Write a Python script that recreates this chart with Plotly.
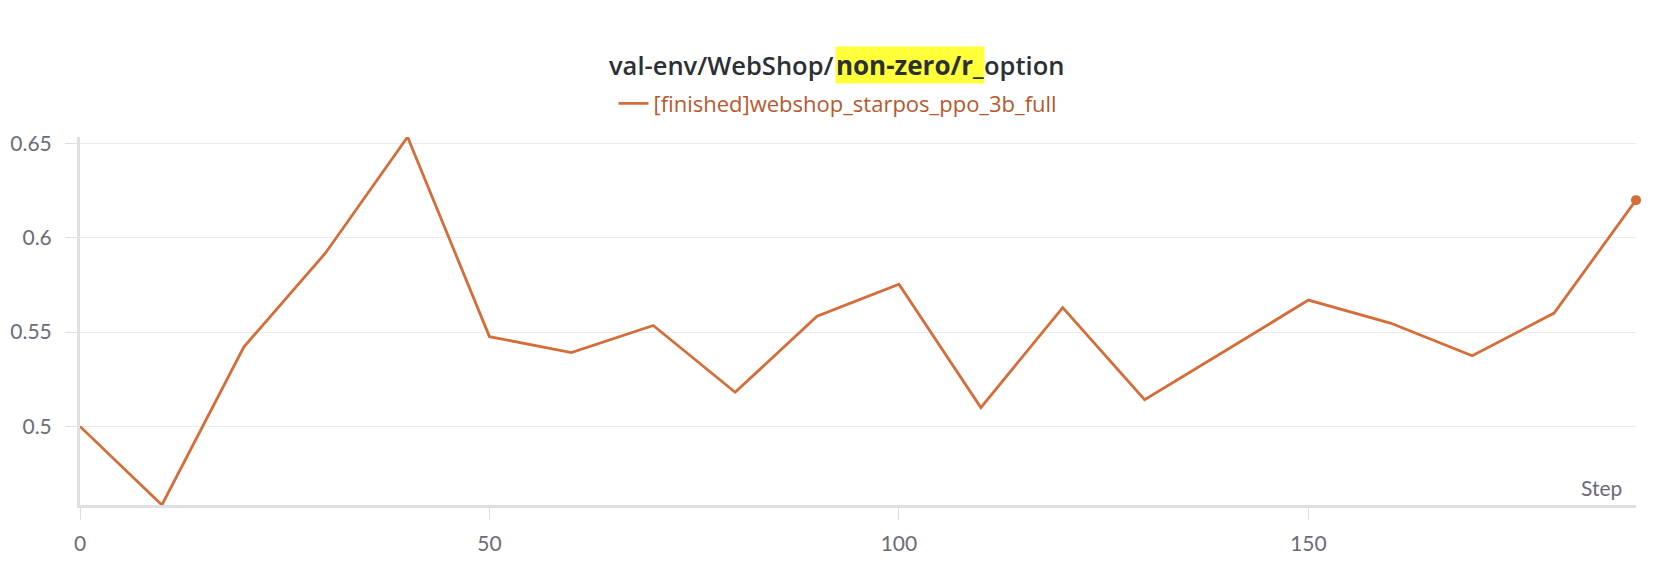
import plotly.graph_objects as go

# ---- data ----
steps = [0, 10, 20, 30, 40, 50, 60, 70, 80, 90, 100, 110, 120, 130, 140, 150, 160, 170, 180, 190]
values = [0.5000, 0.4583, 0.5421, 0.5921, 0.6535, 0.5476, 0.5391, 0.5535, 0.5181, 0.5584,
          0.5754, 0.5100, 0.5630, 0.5142, 0.5405, 0.5670, 0.5548, 0.5375, 0.5601, 0.6200]
run_name = "[finished]webshop_starpos_ppo_3b_full"
title_parts = ["val-env/WebShop/", "non-zero/r_", "option"]
y_tickvals = [0.5, 0.55, 0.6, 0.65]
y_ticktext = ["0.5", "0.55", "0.6", "0.65"]
x_tickvals = [0, 50, 100, 150]
x_ticktext = ["0", "50", "100", "150"]
x_label = "Step"

# ---- styling ----
W, H = 1668, 566
ML, MR, MT, MB = 80, 32, 137, 61
PW, PH = W - ML - MR, H - MT - MB
FONT = "Lato, 'Noto Sans', sans-serif"
TFONT = "'Open Sans', 'Noto Sans', sans-serif"
LINE_COLOR = "#d46d38"
LEGEND_COLOR = "#b9582c"
AXIS_COLOR = "#dedee4"
GRID_COLOR = "#ebebeb"
TICK_COLOR = "#6b6c76"
TITLE_COLOR = "#2d2f36"
HILITE = "#ffff3a"


def px(xp):
    return (xp - ML) / PW


def py(yp):
    return (H - MB - yp) / PH


x_range = [steps[0], steps[-1]]
y_range = [min(values), max(values)]

fig = go.Figure()
fig.add_trace(go.Scatter(
    x=steps, y=values, mode="lines", name=run_name,
    line=dict(color=LINE_COLOR, width=2.8), showlegend=True,
))
fig.add_trace(go.Scatter(
    x=[steps[-1]], y=[values[-1]], mode="markers", showlegend=False,
    marker=dict(color=LINE_COLOR, size=10), cliponaxis=False,
))

axis_common = dict(showline=True, linecolor=AXIS_COLOR, linewidth=3, zeroline=False,
                   automargin=False,
                   ticks="outside", ticklen=12, tickwidth=1, tickcolor=AXIS_COLOR,
                   tickfont=dict(family=FONT, size=21, color=TICK_COLOR))

fig.update_layout(
    width=W, height=H,
    margin=dict(l=ML, r=MR, t=MT, b=MB, pad=0, autoexpand=False),
    paper_bgcolor="white", plot_bgcolor="white",
    font=dict(family=FONT),
    xaxis=dict(range=x_range, tickvals=x_tickvals, ticktext=x_ticktext, showgrid=False,
               ticklabelstandoff=6, **axis_common),
    yaxis=dict(range=y_range, tickvals=y_tickvals, ticktext=y_ticktext, showgrid=True,
               gridcolor=GRID_COLOR, gridwidth=1, ticklabelstandoff=9, **axis_common),
    xaxis2=dict(range=x_range, overlaying="x", tickvals=x_tickvals, ticks="inside", ticklen=12,
                tickcolor=AXIS_COLOR, showticklabels=False, showgrid=False, showline=False,
                zeroline=False, automargin=False),
    yaxis2=dict(range=y_range, overlaying="y", side="left", tickvals=y_tickvals, ticks="inside",
                ticklen=12, tickcolor=AXIS_COLOR, showticklabels=False, showgrid=False,
                showline=False, zeroline=False, automargin=False),
    legend=dict(orientation="h", x=px(838), xanchor="center", y=py(103.5), yanchor="middle",
                font=dict(family=TFONT, size=22, color=LEGEND_COLOR), bgcolor="rgba(0,0,0,0)"),
    showlegend=True,
)

# Title pieces
hl_left, hl_right = 835, 983
title_y = py(65.3)
fig.add_annotation(text=title_parts[0], xref="paper", yref="paper", x=px(hl_left), y=title_y,
                   xanchor="right", yanchor="middle", showarrow=False, borderpad=0,
                   font=dict(family=TFONT, size=25.5, color=TITLE_COLOR, weight=600))
fig.add_annotation(text=title_parts[1], xref="paper", yref="paper", x=px(hl_left), y=title_y,
                   xanchor="left", yanchor="middle", showarrow=False, borderpad=0,
                   width=hl_right - hl_left, height=36, bgcolor=HILITE, align="center",
                   font=dict(family=TFONT, size=26, color=TITLE_COLOR, weight=700))
fig.add_annotation(text=title_parts[2], xref="paper", yref="paper", x=px(hl_right), y=title_y,
                   xanchor="left", yanchor="middle", showarrow=False, borderpad=0,
                   font=dict(family=TFONT, size=25.5, color=TITLE_COLOR, weight=600))
# axis label
fig.add_annotation(text=x_label, xref="paper", yref="paper", x=px(1624), y=py(487),
                   xanchor="right", yanchor="middle", showarrow=False,
                   font=dict(family=FONT, size=21, color=TICK_COLOR))

fig.write_html("out.html")
